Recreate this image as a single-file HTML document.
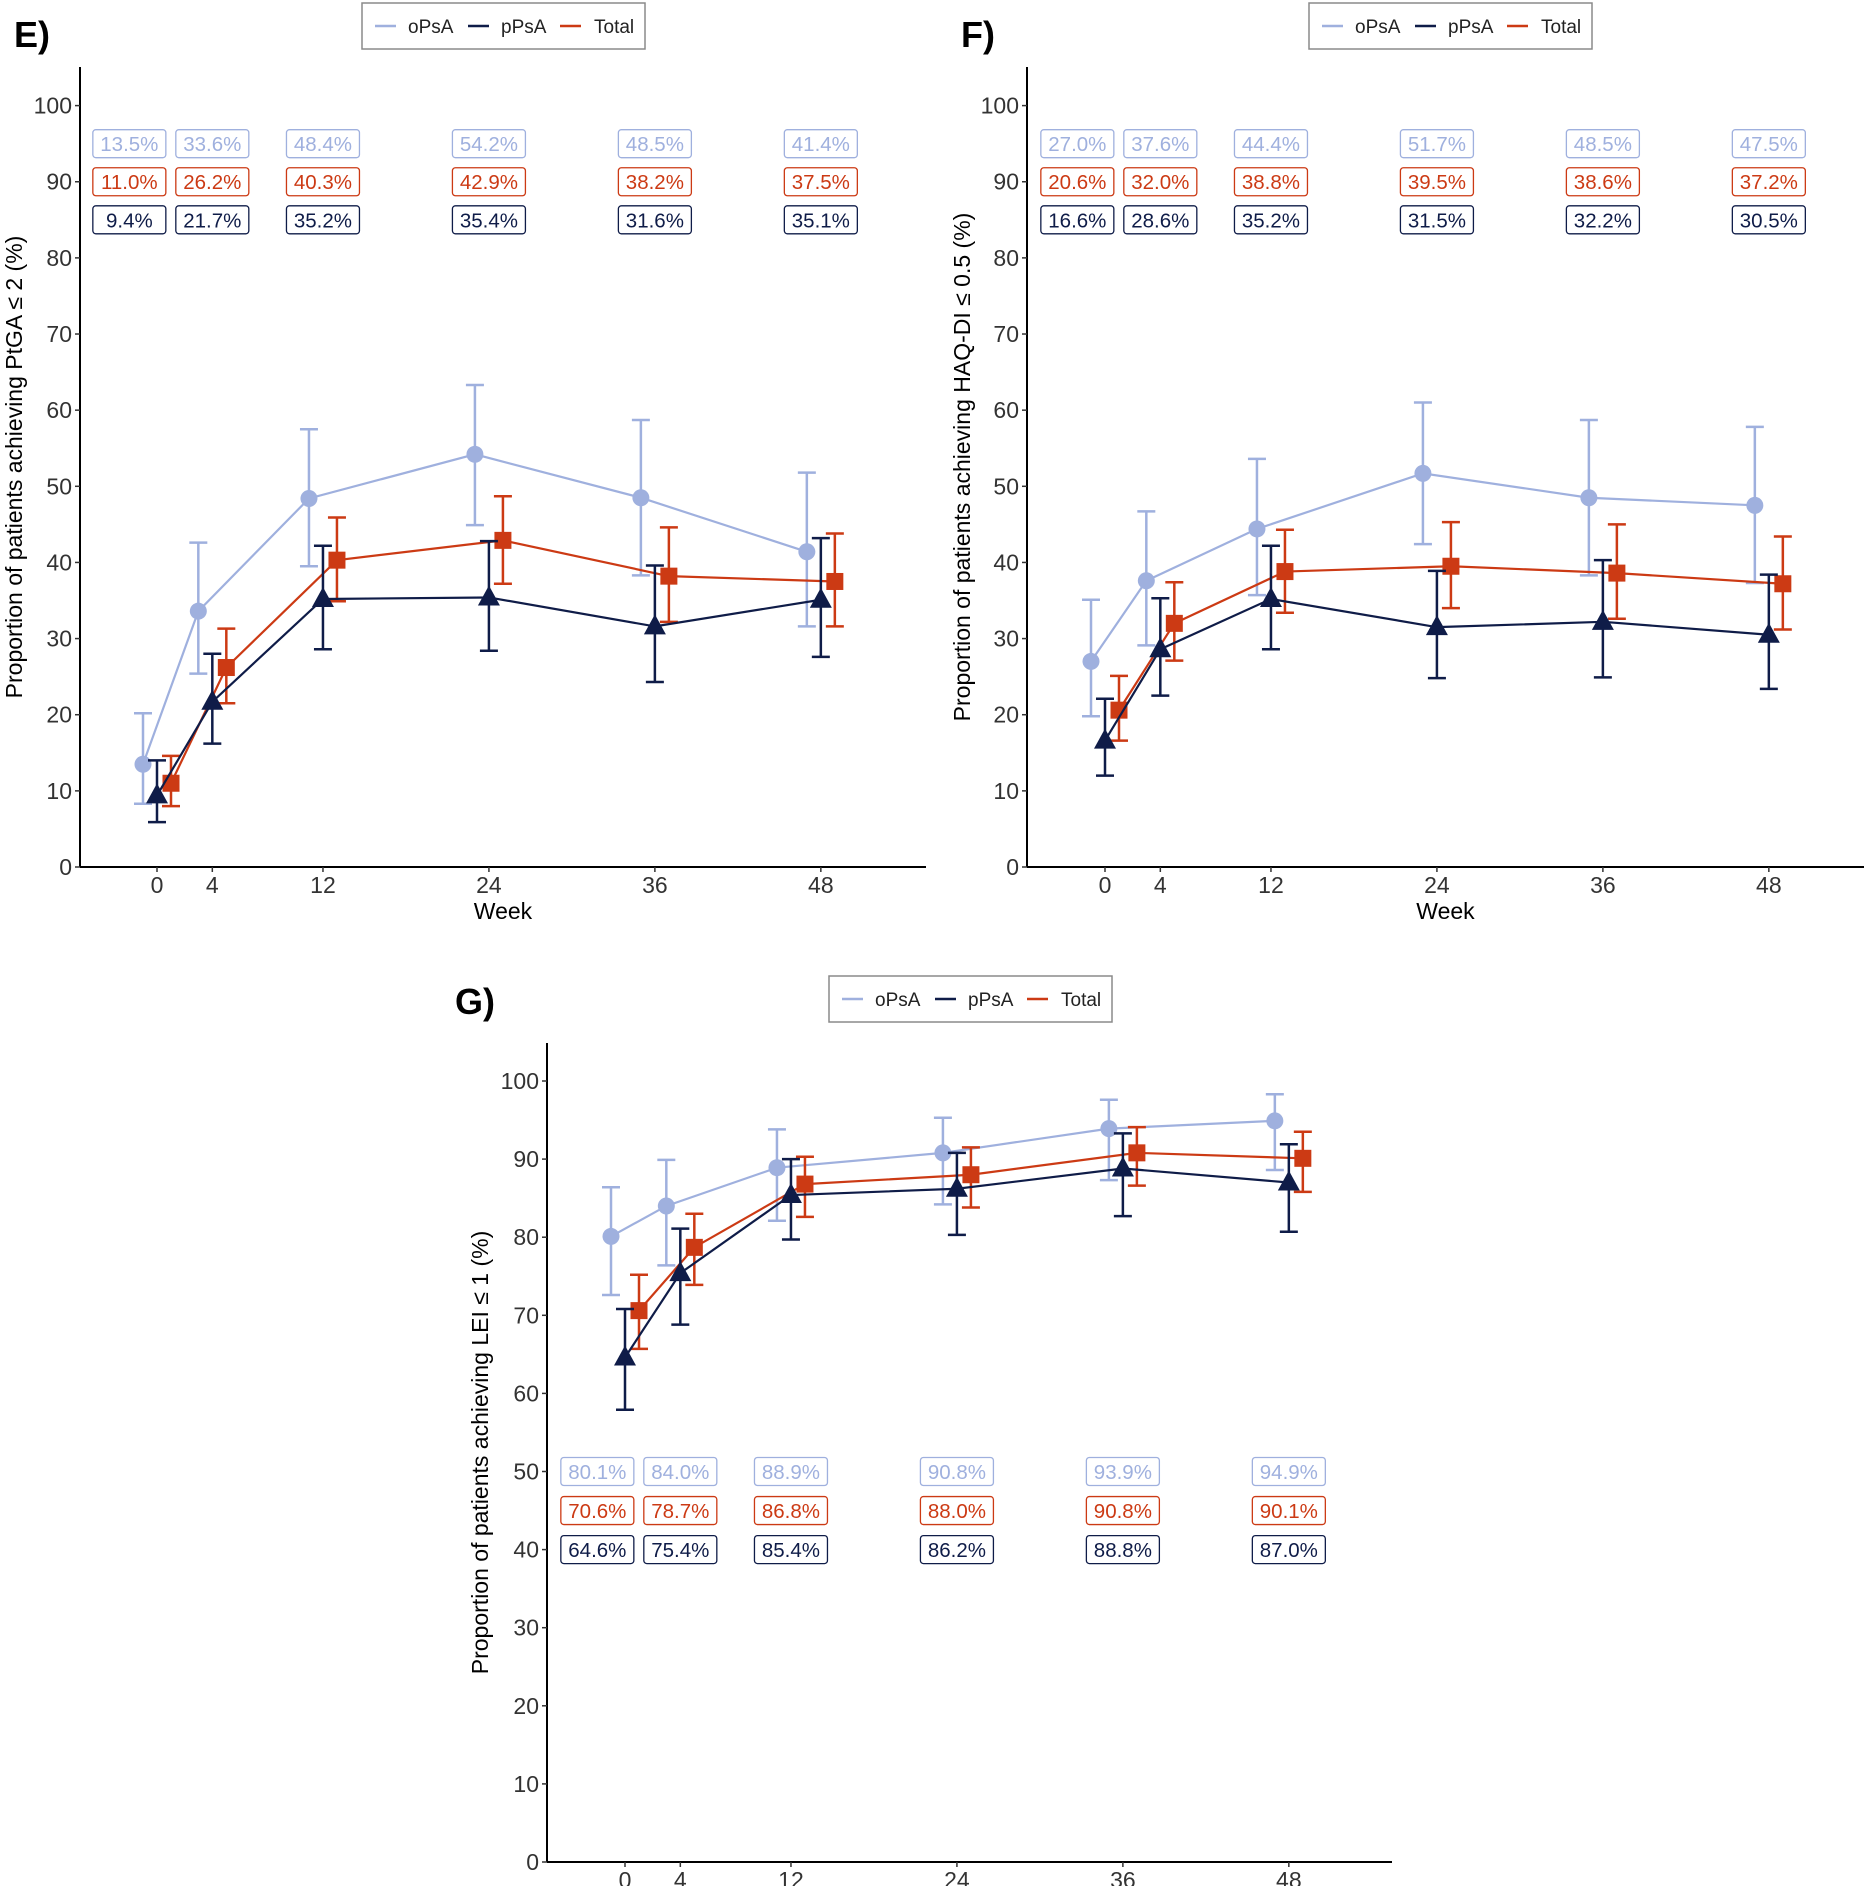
<!DOCTYPE html>
<html><head><meta charset="utf-8"><style>
html,body{margin:0;padding:0;background:#fff;}
svg{display:block;font-family:"Liberation Sans",Arial,sans-serif;}
</style></head><body>
<svg id="root" width="1865" height="1886" viewBox="0 0 1865 1886" xmlns="http://www.w3.org/2000/svg"></svg>
<script>
const weeks = [0, 4, 12, 24, 36, 48];
const labelWeeks = [-2, 4, 12, 24, 36, 48];
const yTicks = [0, 10, 20, 30, 40, 50, 60, 70, 80, 90, 100];
const seriesNames = ["oPsA", "pPsA", "Total"];

const eOPsA = [13.5, 33.6, 48.4, 54.2, 48.5, 41.4];
const eOPsALo = [8.3, 25.4, 39.5, 44.9, 38.3, 31.6];
const eOPsAHi = [20.2, 42.6, 57.5, 63.3, 58.7, 51.8];
const ePPsA = [9.4, 21.7, 35.2, 35.4, 31.6, 35.1];
const ePPsALo = [5.9, 16.2, 28.6, 28.4, 24.3, 27.6];
const ePPsAHi = [14.0, 28.0, 42.2, 42.8, 39.6, 43.2];
const eTotal = [11.0, 26.2, 40.3, 42.9, 38.2, 37.5];
const eTotalLo = [8.0, 21.5, 34.9, 37.2, 32.2, 31.6];
const eTotalHi = [14.6, 31.3, 45.9, 48.7, 44.6, 43.8];

const fOPsA = [27.0, 37.6, 44.4, 51.7, 48.5, 47.5];
const fOPsALo = [19.8, 29.1, 35.7, 42.4, 38.3, 37.3];
const fOPsAHi = [35.1, 46.7, 53.6, 61.0, 58.7, 57.8];
const fPPsA = [16.6, 28.6, 35.2, 31.5, 32.2, 30.5];
const fPPsALo = [12.0, 22.5, 28.6, 24.8, 24.9, 23.4];
const fPPsAHi = [22.1, 35.3, 42.2, 38.9, 40.3, 38.4];
const fTotal = [20.6, 32.0, 38.8, 39.5, 38.6, 37.2];
const fTotalLo = [16.6, 27.1, 33.4, 34.0, 32.6, 31.2];
const fTotalHi = [25.1, 37.4, 44.3, 45.3, 45.0, 43.4];

const gOPsA = [80.1, 84.0, 88.9, 90.8, 93.9, 94.9];
const gOPsALo = [72.6, 76.4, 82.1, 84.2, 87.3, 88.6];
const gOPsAHi = [86.4, 89.9, 93.8, 95.3, 97.6, 98.3];
const gPPsA = [64.6, 75.4, 85.4, 86.2, 88.8, 87.0];
const gPPsALo = [57.9, 68.8, 79.7, 80.3, 82.7, 80.7];
const gPPsAHi = [70.8, 81.1, 90.0, 90.8, 93.3, 91.9];
const gTotal = [70.6, 78.7, 86.8, 88.0, 90.8, 90.1];
const gTotalLo = [65.7, 73.9, 82.6, 83.8, 86.6, 85.8];
const gTotalHi = [75.2, 83.0, 90.3, 91.5, 94.1, 93.5];

const eLabelRows = [95, 90, 85];
const gLabelRows = [50, 45, 40];

const COL = {oPsA: "#9fb0de", pPsA: "#0f1c48", Total: "#cc3a14"};
const NS = "http://www.w3.org/2000/svg";
const root = document.getElementById("root");
function mk(tag, attrs, parent) {
  const e = document.createElementNS(NS, tag);
  for (const k in attrs) e.setAttribute(k, attrs[k]);
  (parent || root).appendChild(e);
  return e;
}

function chart(cfg) {
  const g = mk("g", {});
  
  
  const xS = w => cfg.w0 + w * 13.83;
  const yS = v => cfg.yB - v * (cfg.yB - cfg.y100) / 100;
  const off = {oPsA: -14, pPsA: 0, Total: 14};

  const t = mk("text", {x: cfg.tx, y: cfg.ty, "font-size": 36, "font-weight": "bold", fill: "#000"}, g);
  t.textContent = cfg.title;
  
  

  const lg = mk("g", {}, g);
  
  
  mk("rect", {x: cfg.lx, y: cfg.ly, width: 283, height: 46, fill: "#fff", stroke: "#8a8a8a", "stroke-width": 1.5}, lg);
  const lOff = [13, 106, 198];
  const tOff = [46, 139, 232];
  seriesNames.forEach((s, i) => {
    const it = mk("g", {}, lg);
    
    
    mk("line", {x1: cfg.lx + lOff[i], x2: cfg.lx + lOff[i] + 21, y1: cfg.ly + 23, y2: cfg.ly + 23, stroke: COL[s], "stroke-width": 2.5}, it);
    const tt = mk("text", {x: cfg.lx + tOff[i], y: cfg.ly + 30, "font-size": 19, fill: "#222"}, it);
    tt.textContent = s;
  });

  const ax = mk("g", {}, g);
  
  
  mk("line", {x1: cfg.ax, x2: cfg.ax, y1: cfg.yTop, y2: cfg.yB, stroke: "#000", "stroke-width": 2}, ax);
  mk("line", {x1: cfg.ax, x2: cfg.xR, y1: cfg.yB, y2: cfg.yB, stroke: "#000", "stroke-width": 2}, ax);
  yTicks.forEach(v => {
    mk("line", {x1: cfg.ax - 5, x2: cfg.ax, y1: yS(v), y2: yS(v), stroke: "#333", "stroke-width": 1.5}, ax);
    const tl = mk("text", {x: cfg.ax - 8, y: yS(v) + 8, "font-size": 23, fill: "#333", "text-anchor": "end"}, ax);
    tl.textContent = v;
    
    
  });
  weeks.forEach(w => {
    mk("line", {x1: xS(w), x2: xS(w), y1: cfg.yB, y2: cfg.yB + 5, stroke: "#333", "stroke-width": 1.5}, ax);
    const tl = mk("text", {x: xS(w), y: cfg.yB + 26, "font-size": 23, fill: "#333", "text-anchor": "middle"}, ax);
    tl.textContent = w;
    
    
  });
  const xt = mk("text", {x: (cfg.ax + cfg.xR) / 2, y: cfg.yB + 52, "font-size": 23, fill: "#000", "text-anchor": "middle"}, ax);
  xt.textContent = "Week";
  
  
  const ycy = (cfg.yTop + cfg.yB) / 2;
  const yt = mk("text", {x: cfg.ytx, y: ycy, "font-size": 23, fill: "#000", "text-anchor": "middle", transform: `rotate(-90 ${cfg.ytx} ${ycy})`}, ax);
  yt.textContent = cfg.ytitle;
  
  

  const order = ["oPsA", "Total", "pPsA"];
  order.forEach(s => {
    const d = cfg.data[s];
    const sg = mk("g", {}, g);
    
    
    const pts = d.v.map((v, i) => (xS(weeks[i]) + off[s]) + "," + yS(v)).join(" ");
    mk("polyline", {points: pts, fill: "none", stroke: COL[s], "stroke-width": 2.2}, sg);
    d.v.forEach((v, i) => {
      const x = xS(weeks[i]) + off[s];
      const eb = mk("g", {}, sg);
      
      
      mk("line", {x1: x, x2: x, y1: yS(d.lo[i]), y2: yS(d.hi[i]), stroke: COL[s], "stroke-width": 2.5}, eb);
      mk("line", {x1: x - 9, x2: x + 9, y1: yS(d.lo[i]), y2: yS(d.lo[i]), stroke: COL[s], "stroke-width": 2.5}, eb);
      mk("line", {x1: x - 9, x2: x + 9, y1: yS(d.hi[i]), y2: yS(d.hi[i]), stroke: COL[s], "stroke-width": 2.5}, eb);
      const y = yS(v);
      let m;
      if (s === "oPsA") m = mk("circle", {cx: x, cy: y, r: 8.5, fill: COL[s]}, sg);
      else if (s === "Total") m = mk("rect", {x: x - 8.5, y: y - 8.5, width: 17, height: 17, fill: COL[s]}, sg);
      else m = mk("polygon", {points: `${x},${y - 12} ${x - 11},${y + 8} ${x + 11},${y + 8}`, fill: COL[s]}, sg);
      
      
    });
  });

  const rowSeries = ["oPsA", "Total", "pPsA"];
  rowSeries.forEach((s, r) => {
    cfg.data[s].v.forEach((v, i) => {
      const cx = xS(labelWeeks[i]);
      const cy = yS(cfg.rows[r]);
      const lb = mk("g", {}, g);
      
      
      mk("rect", {x: cx - 36.5, y: cy - 14, width: 73, height: 28, rx: 3, fill: "#fff", stroke: COL[s], "stroke-width": 1.3}, lb);
      const tx = mk("text", {x: cx, y: cy + 7.5, "font-size": 20.5, fill: COL[s], "text-anchor": "middle"}, lb);
      tx.textContent = v.toFixed(1) + "%";
    });
  });
}

chart({name: "chart-e-ptga", title: "E)", tx: 14, ty: 47, lx: 362, ly: 3,
  ax: 80, w0: 157, yB: 867, y100: 105.6, yTop: 67, xR: 926, ytx: 22,
  ytitle: "Proportion of patients achieving PtGA \u2264 2 (%)", rows: eLabelRows,
  data: {oPsA: {v: eOPsA, lo: eOPsALo, hi: eOPsAHi}, pPsA: {v: ePPsA, lo: ePPsALo, hi: ePPsAHi}, Total: {v: eTotal, lo: eTotalLo, hi: eTotalHi}}});
chart({name: "chart-f-haqdi", title: "F)", tx: 961, ty: 47, lx: 1309, ly: 3,
  ax: 1027, w0: 1105, yB: 867, y100: 105.6, yTop: 67, xR: 1864, ytx: 970,
  ytitle: "Proportion of patients achieving HAQ-DI \u2264 0.5 (%)", rows: eLabelRows,
  data: {oPsA: {v: fOPsA, lo: fOPsALo, hi: fOPsAHi}, pPsA: {v: fPPsA, lo: fPPsALo, hi: fPPsAHi}, Total: {v: fTotal, lo: fTotalLo, hi: fTotalHi}}});
chart({name: "chart-g-lei", title: "G)", tx: 455, ty: 1014, lx: 829, ly: 976,
  ax: 547, w0: 625, yB: 1862, y100: 1081, yTop: 1043, xR: 1392, ytx: 488,
  ytitle: "Proportion of patients achieving LEI \u2264 1 (%)", rows: gLabelRows,
  data: {oPsA: {v: gOPsA, lo: gOPsALo, hi: gOPsAHi}, pPsA: {v: gPPsA, lo: gPPsALo, hi: gPPsAHi}, Total: {v: gTotal, lo: gTotalLo, hi: gTotalHi}}});
</script>
</body></html>
